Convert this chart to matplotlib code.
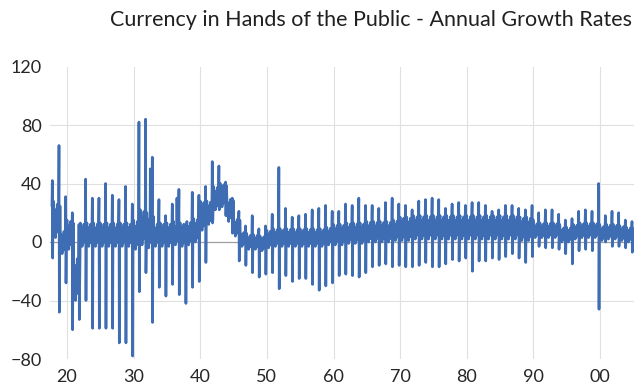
import matplotlib
matplotlib.use("Agg")
import matplotlib.pyplot as plt

# one entry per year
years = list(range(1917, 2005))
level = [20, 15, 0, 5, -25, 5, 5, 5, 5, 5, 5, 5, 5,
         5, 10, 8, 5, 5, 5, 6, 5, 6, 8,
         18, 20, 30, 32, 22, 10, 2, 0, 0, -1,
         2, 3, 3, 3, 3, 3, 3, 3, 3, 4,
         5, 5, 6, 6, 6, 7, 7, 7, 7, 8,
         9, 9, 10, 10, 10, 10, 10, 10, 10, 10,
         10, 10, 10, 10, 10, 10, 10, 10, 9, 9,
         8, 8, 8, 8, 5, 5, 7, 8, 8, 8,
         6, 7, 7, 6, 5]
band = [10, 12, 8, 10, 15, 8, 8, 8, 8, 8, 8, 8, 8,
        10, 12, 12, 8, 8, 8, 8, 8, 8, 8,
        10, 8, 8, 8, 8, 6, 5, 5, 5, 5,
        6, 6, 6, 6, 6, 6, 6, 6, 6, 6,
        7, 7, 7, 7, 7, 7, 7, 7, 7, 7,
        8, 8, 8, 8, 8, 8, 8, 8, 8, 8,
        8, 8, 8, 8, 8, 8, 8, 8, 8, 8,
        5, 5, 5, 5, 5, 5, 5, 5, 5, 5,
        5, 5, 5, 5, 5]
peak = [42, 66, 31, 20, 12, 43, 30, 30, 40, 32, 29, 38, 26,
        82, 84, 58, 29, 18, 26, 36, 11, 34, 32,
        38, 55, 52, 41, 30, 21, 11, 18, 9, 11,
        19, 51, 23, 17, 18, 19, 22, 23, 25, 21,
        21, 26, 25, 30, 25, 25, 23, 27, 30, 26,
        25, 22, 28, 29, 30, 29, 23, 26, 27, 25,
        27, 27, 25, 21, 22, 25, 25, 23, 22, 25,
        20, 22, 22, 19, 15, 16, 21, 22, 21, 40,
        18, 21, 20, 15, 14]
trough = [-11, -48, -28, -60, -53, -40, -59, -59, -59, -59, -69, -69, -78,
          -34, -21, -55, -31, -37, -29, -36, -42, -31, -27,
          -14, 13, 22, 18, 6, -13, -16, -21, -24, -22,
          -21, -32, -23, -27, -25, -25, -29, -33, -30, -28,
          -23, -22, -23, -24, -21, -17, -16, -15, -17, -16,
          -17, -17, -16, -14, -17, -17, -15, -12, -13, -11,
          -20, -13, -13, -11, -12, -10, -8, -11, -14, -10,
          -3, -4, -4, -5, -8, -15, -6, -5, -6, -46,
          0, -3, -3, -4, -7]
# a couple of extra mid-year spikes
extra_t = [1932.5, 1936.5]
extra_v = [50, 30]

x_ticks = [1920, 1930, 1940, 1950, 1960, 1970, 1980, 1990, 2000]
x_labels = ['20', '30', '40', '50', '60', '70', '80', '90', '00']
y_ticks = [-80, -40, 0, 40, 80, 120]

# within-year wiggle of the band (fraction of the band half-width)
wiggle = [1.0, -0.5, 0.6, -1.0, 0.3, -0.7, 0.9, -0.4]

# build the sub-yearly series
pts = []
for yr, lv, b, pk, tr in zip(years, level, band, peak, trough):
    for k, w in enumerate(wiggle):
        pts.append((yr + 0.09 * k, lv + w * b))
    pts += [(yr + 0.74, lv + 0.5 * b), (yr + 0.8, pk), (yr + 0.85, tr),
            (yr + 0.9, lv - 0.6 * b), (yr + 0.95, lv + 0.8 * b)]
pts += list(zip(extra_t, extra_v))
pts = sorted(p for p in pts if p[0] >= 1917.72)
t = [p[0] for p in pts]
v = [p[1] for p in pts]

plt.rcParams['font.family'] = ['Lato', 'DejaVu Sans']

fig = plt.figure(figsize=(6.34, 3.87), dpi=100)
ax = fig.add_axes([50 / 634, 1 - 359 / 387, 584 / 634, 292.5 / 387])

ax.plot(t, v, color='#3f6db4', linewidth=1.9)
ax.axhline(0, color='#a0a0a0', linewidth=0.9, zorder=1)

ax.set_xlim(1917.45, 2005.1)
ax.set_ylim(-80, 120)
ax.set_xticks(x_ticks)
ax.set_xticklabels(x_labels)
ax.set_yticks(y_ticks)
ax.tick_params(length=0, labelsize=13, colors='#262626')
ax.tick_params(axis='x', pad=7)
ax.tick_params(axis='y', pad=6)

ax.grid(True, color='#e0e0e0', linewidth=0.8)
ax.set_axisbelow(True)
ygl = ax.get_ygridlines()
ygl[0].set_visible(False)
ygl[-1].set_visible(False)
for s in ax.spines.values():
    s.set_visible(False)

fig.text(0.585, 0.948, 'Currency in Hands of the Public - Annual Growth Rates',
         ha='center', va='center', fontsize=15.5, color='#202020')

fig.savefig('out.png', dpi=100)
